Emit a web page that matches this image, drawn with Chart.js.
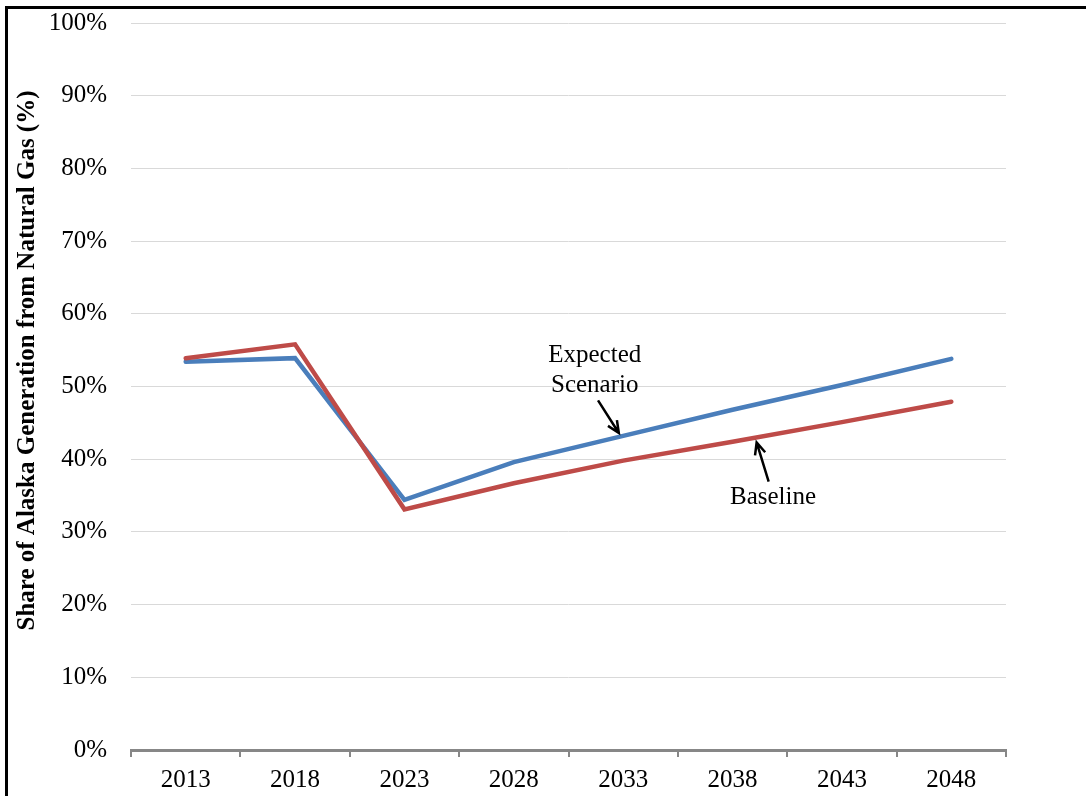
<!DOCTYPE html>
<html>
<head>
<meta charset="utf-8">
<script src="https://cdn.jsdelivr.net/npm/chart.js@4/dist/chart.umd.min.js"></script>
<style>
  html, body { margin: 0; padding: 0; background: #fff; overflow: hidden; }
  #wrap { position: relative; width: 1086px; height: 796px; }
  #frame { position: absolute; left: 5px; top: 6px; width: 1100px; height: 800px; border-top: 3px solid #000; border-left: 3px solid #000; box-sizing: border-box; }
  canvas { position: absolute; left: 0; top: 0; }
</style>
</head>
<body>
<div id="wrap">
  <div id="frame"></div>
  <canvas id="chart" width="1086" height="796"></canvas>
</div>
<script>
  "use strict";

  const years = ["2013", "2018", "2023", "2028", "2033", "2038", "2043", "2048"];
  const expectedScenario = [53.4, 53.9, 34.4, 39.6, 43.2, 46.8, 50.2, 53.8];
  const baseline = [53.9, 55.8, 33.1, 36.7, 39.8, 42.4, 45.1, 47.9];
  const yTitle = "Share of Alaska Generation from Natural Gas (%)";

  // callouts in data space: x = category index, y = percent
  const notes = [
    { lines: ["Expected", "Scenario"], x: 3.74, y: 52.2, from: [3.77, 48.1], to: [3.96, 43.6] },
    { lines: ["Baseline"], x: 5.37, y: 34.7, from: [5.33, 36.9], to: [5.22, 42.3] }
  ];

  const serif = "'Liberation Serif', 'Times New Roman', serif";
  const blue = "#4a7ebb";
  const red = "#be4b48";
  const axisGray = "#878787";

  const drawArrow = (ctx, x1, y1, x2, y2) => {
    const ang = Math.atan2(y2 - y1, x2 - x1);
    const head = 13;
    ctx.beginPath();
    ctx.moveTo(x1, y1);
    ctx.lineTo(x2, y2);
    ctx.moveTo(x2 - head * Math.cos(ang - 0.42), y2 - head * Math.sin(ang - 0.42));
    ctx.lineTo(x2, y2);
    ctx.lineTo(x2 - head * Math.cos(ang + 0.42), y2 - head * Math.sin(ang + 0.42));
    ctx.stroke();
  };

  const calloutPlugin = {
    id: "callouts",
    afterDatasetsDraw(chart) {
      const { ctx, scales: { x, y } } = chart;
      ctx.save();
      ctx.fillStyle = "#000";
      ctx.strokeStyle = "#000";
      ctx.lineWidth = 2.5;
      ctx.font = `25px ${serif}`;
      ctx.textAlign = "center";
      ctx.textBaseline = "middle";
      notes.forEach((note) => {
        const cx = x.getPixelForValue(note.x);
        const cy = y.getPixelForValue(note.y);
        const lh = 30;
        note.lines.forEach((line, i) => {
          ctx.fillText(line, cx, cy + (i - (note.lines.length - 1) / 2) * lh);
        });
        drawArrow(ctx,
          x.getPixelForValue(note.from[0]), y.getPixelForValue(note.from[1]),
          x.getPixelForValue(note.to[0]), y.getPixelForValue(note.to[1]));
      });
      ctx.restore();
    },
    afterDraw(chart) {
      const { ctx, chartArea } = chart;
      ctx.save();
      ctx.translate(28, (chartArea.top + chartArea.bottom) / 2 - 26);
      ctx.rotate(-Math.PI / 2);
      ctx.font = `bold 25px ${serif}`;
      ctx.fillStyle = "#000";
      ctx.textAlign = "center";
      ctx.textBaseline = "middle";
      ctx.fillText(yTitle, 0, 0);
      ctx.restore();
    }
  };

  new Chart(document.getElementById("chart"), {
    type: "line",
    data: {
      labels: years,
      datasets: [
        { label: "Baseline", data: baseline, borderColor: red, borderWidth: 4.5 },
        { label: "Expected Scenario", data: expectedScenario, borderColor: blue, borderWidth: 4.5 }
      ]
    },
    options: {
      responsive: false,
      animation: false,
      layout: { padding: { top: 23, right: 80, left: 0, bottom: 0 } },
      elements: {
        point: { radius: 0, hoverRadius: 0 },
        line: { tension: 0, fill: false, borderCapStyle: "round", borderJoinStyle: "miter" }
      },
      plugins: {
        legend: { display: false },
        tooltip: { enabled: false }
      },
      scales: {
        x: {
          offset: true,
          grid: { offset: true, drawOnChartArea: false, drawTicks: true, tickLength: 7, color: axisGray, lineWidth: 2 },
          border: { display: true, color: axisGray, width: 3 },
          ticks: { color: "#000", font: { family: serif, size: 25 }, padding: 8, maxRotation: 0 },
          afterFit: (scale) => { scale.height = 46; scale.paddingLeft = 0; scale.paddingRight = 0; }
        },
        y: {
          min: 0,
          max: 100,
          grid: { color: "#d9d9d9", lineWidth: 1, drawTicks: false },
          border: { display: false },
          ticks: { stepSize: 10, padding: 24, color: "#000", font: { family: serif, size: 25 }, callback: (v) => `${v}%` },
          afterFit: (scale) => { scale.width = 131; scale.paddingTop = 0; scale.paddingBottom = 0; }
        }
      }
    },
    plugins: [calloutPlugin]
  });
</script>
</body>
</html>
